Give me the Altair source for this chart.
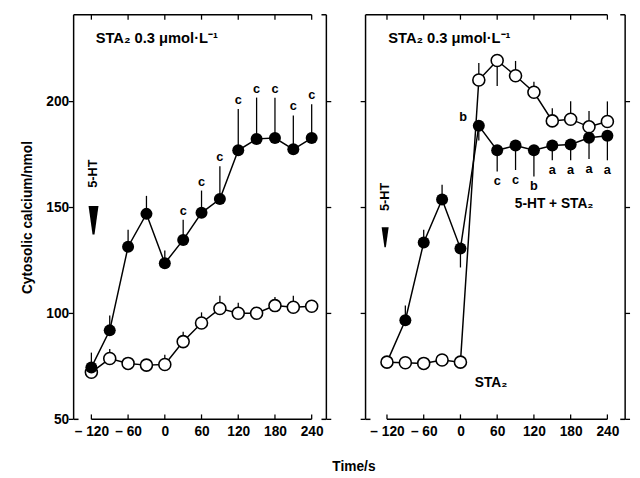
import altair as alt
import pandas as pd

# ---------------- data ----------------
times = [-120, -90, -60, -30, 0, 30, 60, 90, 120, 150, 180, 210, 240]

# left panel: 5-HT (filled) and control (open)
left_5ht = [74.5, 92.0, 131.5, 147.0, 123.7, 134.7, 147.5, 154.0, 177.0, 182.4, 182.8, 177.5, 182.8]
left_5ht_err = [7, 7, 8, 8.5, 6, 9.5, 10.5, 15.5, 19.5, 19.5, 19, 16, 16]
left_5ht_sig = ["", "", "", "", "", "c", "c", "c", "c", "c", "c", "c", "c"]
left_ctrl = [72.2, 78.7, 76.4, 75.6, 75.9, 86.7, 95.5, 102.3, 100.1, 100.1, 103.7, 102.9, 103.4]
left_ctrl_err = [0, 4.5, 0, 0, 4.6, 4.6, 5, 6, 5, 2, 4, 5.4, 0]

# right panel: 5-HT + STA2 (filled) and STA2 (open)
right_mix = [77.0, 96.8, 133.5, 153.8, 130.7, 188.6, 177.0, 179.3, 177.0, 179.3, 179.8, 182.9, 183.9]
right_mix_err = [0, 7, 6, 7, -9, -7, -10, -11.6, -12.4, -7, -7.5, -10, -11.6]
right_mix_sig = ["", "", "", "", "", "b", "c", "c", "b", "a", "a", "a", "a"]
right_sta = [77.0, 76.7, 76.4, 78.0, 77.0, 210.2, 219.4, 212.2, 204.4, 190.9, 191.7, 188.1, 190.6]
right_sta_err = [0, 0, 0, 0, 0, 8, -12, 7, 5, 6, 8.5, 7.5, 9.5]

x_ticks = [-120, -60, 0, 60, 120, 180, 240]
y_ticks = [50, 100, 150, 200]

FONT = "Liberation Sans"
H = 413
Y_DOMAIN = [50, 241]
ARROW = "M-0.35,-1L0.35,-1L0.07,1L-0.07,1Z"


def panel(filled, filled_err, filled_sig, opened, opened_err, xdom, W,
          show_y, hide_first_filled, notes):
    n = len(times)
    df = pd.DataFrame({
        "t": times * 2,
        "v": filled + opened,
        "err": filled_err + opened_err,
        "sig": filled_sig + [""] * n,
        "series": ["filled"] * n + ["open"] * n,
    })
    df["end"] = df["v"] + df["err"]

    xaxis = alt.Axis(values=x_ticks, domain=False, ticks=False, grid=False,
                     labelExpr="datum.value < 0 ? '\u2013 ' + abs(datum.value) : datum.label",
                     labelFont=FONT, labelFontSize=14, labelFontWeight="bold",
                     labelColor="black", labelPadding=6, title=None, format="d")
    xscale = alt.Scale(domain=xdom, nice=False, zero=False)
    yscale = alt.Scale(domain=Y_DOMAIN, nice=False, zero=False)
    if show_y:
        yaxis = alt.Axis(values=y_ticks, domain=False, ticks=False, grid=False,
                         labelFont=FONT, labelFontSize=14, labelFontWeight="bold",
                         labelColor="black", labelPadding=5,
                         title="Cytosolic calcium/nmol", titleFont=FONT,
                         titleFontSize=14, titleFontWeight="bold", titleColor="black",
                         titlePadding=12)
    else:
        yaxis = None

    def X(field="t:Q"):
        return alt.X(field, scale=xscale, axis=xaxis)

    def Y(field="v:Q"):
        return alt.Y(field, scale=yscale, axis=yaxis)

    base = alt.Chart(df)

    # frame (bracket style, as in the original)
    frame_df = pd.DataFrame({"x0": [xdom[0]], "xa": [x_ticks[0]],
                             "xb": [x_ticks[-1]], "x1": [xdom[1]]})
    fr = alt.Chart(frame_df)
    rule = dict(color="black", strokeWidth=1.5)
    frame = [
        fr.mark_rule(**rule).encode(x=alt.value(0), y=alt.value(0), y2=alt.value(H)),
        fr.mark_rule(**rule).encode(x=alt.value(W), y=alt.value(0), y2=alt.value(H)),
        fr.mark_rule(**rule).encode(x=X("x0:Q"), x2="xb:Q", y=alt.value(0)),
        fr.mark_rule(**rule).encode(x=alt.value(W - 5), x2=alt.value(W), y=alt.value(0)),
        fr.mark_rule(**rule).encode(x=X("xa:Q"), x2="xb:Q", y=alt.value(H)),
        fr.mark_rule(**rule).encode(x=alt.value(0), x2=alt.value(5), y=alt.value(H)),
        fr.mark_rule(**rule).encode(x=alt.value(W - 5), x2=alt.value(W), y=alt.value(H)),
    ]

    xt = alt.Chart(pd.DataFrame({"t": x_ticks}))
    yt = alt.Chart(pd.DataFrame({"v": y_ticks}))
    ticks = [
        xt.mark_rule(color="black", strokeWidth=1.3).encode(x=X(), y=alt.value(H), y2=alt.value(H - 5)),
        xt.mark_rule(color="black", strokeWidth=1.3).encode(x=X(), y=alt.value(0), y2=alt.value(5)),
        yt.mark_rule(color="black", strokeWidth=1.3).encode(y=Y(), x=alt.value(-5), x2=alt.value(0)),
        yt.mark_rule(color="black", strokeWidth=1.3).encode(y=Y(), x=alt.value(W), x2=alt.value(W + 5)),
    ]

    errs = base.transform_filter("datum.err != 0").mark_rule(
        color="black", strokeWidth=1.3).encode(x=X(), y=Y(), y2="end:Q")

    lines = base.mark_line(color="black", strokeWidth=1.5).encode(
        x=X(), y=Y(), detail="series:N", order="t:Q")

    open_pts = base.transform_filter("datum.series == 'open'").mark_point(
        filled=True, fill="white", stroke="black", strokeWidth=1.6,
        size=150, opacity=1).encode(x=X(), y=Y())

    ffilter = "datum.series == 'filled'"
    if hide_first_filled:
        ffilter += " && datum.t > %d" % times[0]
    filled_pts = base.transform_filter(ffilter).mark_point(
        filled=True, color="black", size=150, opacity=1).encode(x=X(), y=Y())

    sig_up = base.transform_filter("datum.sig != '' && datum.err > 0").mark_text(
        font=FONT, fontSize=13, fontWeight="bold", color="black",
        baseline="bottom", dy=-2).encode(x=X(), y=alt.Y("end:Q", scale=yscale, axis=yaxis), text="sig:N")
    sig_down = base.transform_filter(
        "datum.sig != '' && datum.err < 0 && datum.t != 30").mark_text(
        font=FONT, fontSize=13, fontWeight="bold", color="black",
        baseline="top", dy=4).encode(x=X(), y=alt.Y("end:Q", scale=yscale, axis=yaxis), text="sig:N")
    sig_peak = base.transform_filter(
        "datum.sig != '' && datum.err < 0 && datum.t == 30").mark_text(
        font=FONT, fontSize=13, fontWeight="bold", color="black",
        dx=-16, dy=-9).encode(x=X(), y=Y(), text="sig:N")

    note_layers = []
    for nt in notes:
        ndf = alt.Chart(pd.DataFrame({"t": [nt["t"]], "v": [nt["v"]], "txt": [nt.get("text", "")]}))
        if nt["kind"] == "text":
            note_layers.append(ndf.mark_text(
                font=FONT, fontSize=nt.get("size", 14), fontWeight="bold", color="black",
                align=nt.get("align", "center"), angle=nt.get("angle", 0),
                baseline="middle").encode(x=X(), y=Y(), text="txt:N"))
        else:
            note_layers.append(ndf.mark_point(
                shape=ARROW, filled=True, color="black", opacity=1,
                size=nt["size"]).encode(x=X(), y=Y()))

    layers = frame + ticks + [errs, lines, open_pts, filled_pts, sig_up, sig_down, sig_peak] + note_layers
    return alt.layer(*layers).properties(width=W, height=H)


left_notes = [
    {"kind": "text", "text": "STA\u2082 0.3 \u03bcmol\u00b7L\u207b\u00b9", "t": -113, "v": 230, "align": "left", "size": 15},
    {"kind": "text", "text": "5-HT", "t": -116.5, "v": 166, "angle": 270, "size": 13},
    {"kind": "arrow", "t": -116.5, "v": 144, "size": 840},
]
right_notes = [
    {"kind": "text", "text": "STA\u2082 0.3  \u03bcmol\u00b7L\u207b\u00b9", "t": -118, "v": 230, "align": "left", "size": 15},
    {"kind": "text", "text": "5-HT + STA\u2082", "t": 153, "v": 151.5},
    {"kind": "text", "text": "STA\u2082", "t": 50, "v": 67},
    {"kind": "text", "text": "5-HT", "t": -123, "v": 155, "angle": 270, "size": 13},
    {"kind": "arrow", "t": -123, "v": 136, "size": 420},
]

left = panel(left_5ht, left_5ht_err, left_5ht_sig, left_ctrl, left_ctrl_err,
             [-149, 264], 258, True, False, left_notes)
right = panel(right_mix, right_mix_err, right_mix_sig, right_sta, right_sta_err,
              [-155, 269], 265, False, True, right_notes)

chart = alt.hconcat(left, right, spacing=26).properties(
    padding={"left": 12, "top": 0, "right": 0, "bottom": 0},
    title=alt.TitleParams("Time/s", orient="bottom", anchor="middle", font=FONT,
                          fontSize=14, fontWeight="bold", color="black",
                          offset=21, dx=29),
).configure_view(stroke="transparent")

chart.save("out.html", embed_options={"renderer": "svg", "actions": False})
